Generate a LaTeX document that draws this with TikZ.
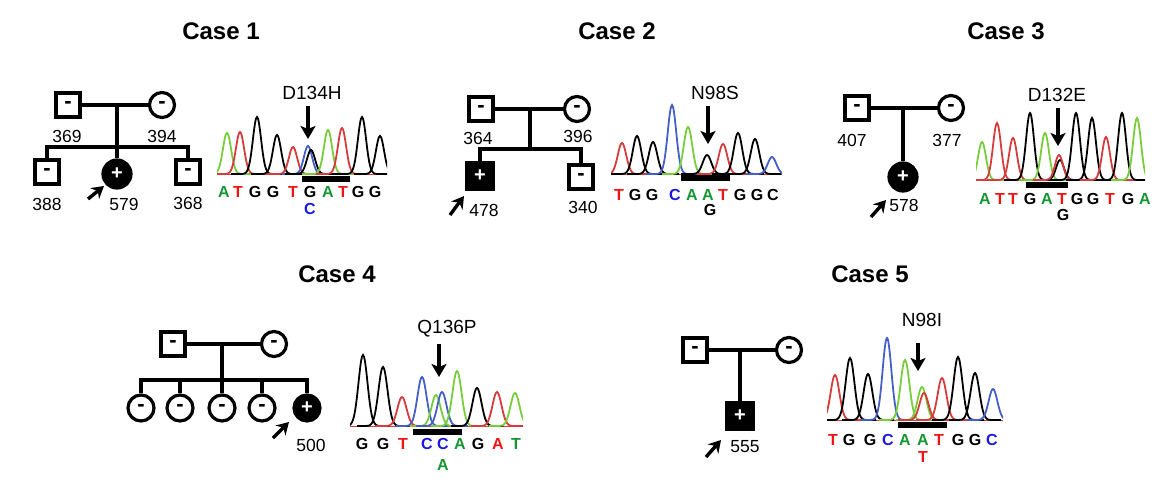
\documentclass[tikz,border=0pt]{standalone}
\usepackage{fontspec}
\setmainfont{Liberation Sans}
\usetikzlibrary{arrows.meta,positioning,calc}

\definecolor{tgreen}{RGB}{120,205,60}
\definecolor{tred}{RGB}{215,60,60}
\definecolor{tblue}{RGB}{70,95,200}
\definecolor{bA}{RGB}{20,150,50}
\definecolor{bT}{RGB}{240,20,20}
\definecolor{bC}{RGB}{25,25,225}

% one chromatogram peak: base, x, top, colour, width
\newcommand{\trace}[5]{%
  \draw[#4,line width=1.8pt] plot[domain=-26:26,samples=53,smooth]
    ({#2+\x},{#1-(#1-#3)*exp(-(\x/#5)^2)});}

\begin{document}
\begin{tikzpicture}[x=1pt,y=-1pt,
  male/.style={draw,line width=3.2pt,minimum size=24pt,inner sep=0pt,font=\bfseries\fontsize{22}{22}\selectfont},
  female/.style={male,circle,minimum size=25pt},
  affected/.style={fill=black,text=white,font=\bfseries\fontsize{20}{20}\selectfont},
  line/.style={line width=3.2pt},
  idlabel/.style={inner sep=0pt,font=\fontsize{17.5}{17.5}\selectfont},
  title/.style={inner sep=0pt,font=\bfseries\fontsize{24}{24}\selectfont},
  mutlabel/.style={inner sep=0pt,font=\fontsize{19}{19}\selectfont},
  nt/.style={inner sep=0pt,font=\bfseries\fontsize{16}{16}\selectfont},
  probarrow/.style={line width=3.4pt,-{Stealth[length=12pt,width=14pt,inset=4pt]}},
  mutarrow/.style={line width=3.4pt,-{Stealth[length=13pt,width=15pt,inset=3pt]},shorten <=6pt},
  bar/.style={line width=5.5pt}]
\useasboundingbox (0,0) rectangle (1175,492);

% ---------------- Case 1
\node[title] (t1) at (221,31) {Case 1};
\node[male] (f1) at (68,105) {-};
\node[female] (m1) at (162,105) {-};
\node[male] (c1a) at (47,172) {-};
\node[female,affected,minimum size=28pt] (p1) at (117,174) {+};
\node[male] (c1b) at (188,172) {-};
\coordinate (s1) at (117,147);
\draw[line] (f1) -- (m1);
\draw[line] (s1 |- f1) -- (p1);
\draw[line] (c1a.north) |- (s1) -| (c1b.north);
\node[idlabel] (l369) at (67,136) {369};
\node[idlabel] (l394) at (162,136) {394};
\node[idlabel] (l388) at (47,204) {388};
\node[idlabel] (l579) at (124,204) {579};
\node[idlabel] (l368) at (188,203) {368};
\coordinate (a1) at (88,199);
\coordinate (h1) at (104,186);
\draw[probarrow] (a1) -- (h1);

\begin{scope}
  \clip (217,100) rectangle (387,176);
  \draw[tred,line width=1pt] (217,174) -- (387,174);
  \foreach \px/\py/\pc in {227/133/tgreen,240/132/tred,257/117/black,277/135/black,
      293/147/tred,308/146/tblue,311/150/black,328/130/tgreen,342/128/tred,
      362/117/black,380/136/black}
    {\trace{174}{\px}{\py}{\pc}{5.8}}
\end{scope}
\draw[bar] (302,179) -- (350,179);
\foreach \px/\nb/\nc [count=\i] in {224/A/bA,238/T/bT,255/G/black,273/G/black,
    293/T/bT,310/G/black,328/A/bA,343/T/bT,358/G/black,375/G/black}
  \node[nt,text=\nc] (q1\i) at (\px,192) {\nb};
\node[nt,text=bC] (v1) at (310,209) {C};
\node[mutlabel] (mut1) at (312,93) {D134H};
\coordinate (k1) at (308,139);
\draw[mutarrow] (mut1.south -| k1) -- (k1);

% ---------------- Case 2
\node[title] (t2) at (617,31) {Case 2};
\node[male] (f2) at (481,109) {-};
\node[female] (m2) at (577,109) {-};
\node[male,affected,minimum size=26pt] (p2) at (480,176) {+};
\node[male] (c2b) at (581,177) {-};
\coordinate (s2) at (530,149);
\draw[line] (f2) -- (m2);
\draw[line] (s2 |- f2) -- (s2);
\draw[line] (p2.north) |- (s2) -| (c2b.north);
\node[idlabel] (l364) at (478,138) {364};
\node[idlabel] (l396) at (578,136) {396};
\node[idlabel] (l478) at (484,210) {478};
\node[idlabel] (l340) at (583,207) {340};
\coordinate (a2) at (450,215);
\coordinate (h2) at (464,196);
\draw[probarrow] (a2) -- (h2);

\begin{scope}
  \clip (611,95) rectangle (782,175);
  \draw[tred,line width=1pt] (611,174) -- (782,174);
  \foreach \px/\py/\pc in {622/143/tred,637/136/black,653/142/black,672/105/tblue,
      688/127/tgreen,707/155/black,723/144/tred,738/133/black,755/139/black,772/157/tblue}
    {\trace{174}{\px}{\py}{\pc}{6}}
\end{scope}
\draw[bar] (681,178) -- (730,178);
\foreach \px/\nb/\nc [count=\i] in {619/T/bT,635/G/black,652/G/black,675/C/bC,
    692/A/bA,708/A/bA,723/T/bT,740/G/black,757/G/black,773/C/black}
  \node[nt,text=\nc] (q2\i) at (\px,195) {\nb};
\node[nt] (v2) at (710,210) {G};
\node[mutlabel] (mut2) at (715,93) {N98S};
\coordinate (k2) at (708,144);
\draw[mutarrow] (mut2.south -| k2) -- (k2);

% ---------------- Case 3
\node[title] (t3) at (1006,31) {Case 3};
\node[male] (f3) at (857,108) {-};
\node[female] (m3) at (951,108) {-};
\node[female,affected,minimum size=28pt] (p3) at (903,177) {+};
\draw[line] (f3) -- (m3);
\draw[line] (p3 |- f3) -- (p3);
\node[idlabel] (l407) at (852,140) {407};
\node[idlabel] (l377) at (947,140) {377};
\node[idlabel] (l578) at (904,205) {578};
\coordinate (a3) at (871,217);
\coordinate (h3) at (886,200);
\draw[probarrow] (a3) -- (h3);

\begin{scope}
  \clip (976,100) rectangle (1145,181);
  \draw[tred,line width=1pt] (976,180) -- (1145,180);
  \foreach \px/\py/\pc in {982/142/tgreen,997/123/tred,1013/138/tred,1030/113/black,
      1045/133/tgreen,1060/160/black,1059/155/tred,1076/113/black,1092/118/black,
      1106/137/tred,1122/113/black,1137/118/tgreen}
    {\trace{180}{\px}{\py}{\pc}{5.6}}
\end{scope}
\draw[bar] (1026,185) -- (1068,185);
\foreach \px/\nb/\nc [count=\i] in {985/A/bA,1000/T/bT,1013/T/bT,1030/G/black,
    1047/A/bA,1062/T/bT,1077/G/black,1093/G/black,1110/T/bT,1128/G/black,1145/A/bA}
  \node[nt,text=\nc] (q3\i) at (\px,199) {\nb};
\node[nt] (v3) at (1063,215) {G};
\node[mutlabel] (mut3) at (1057,95) {D132E};
\coordinate (k3) at (1058,146);
\draw[mutarrow] (mut3.south -| k3) -- (k3);

% ---------------- Case 4
\node[title] (t4) at (337,274) {Case 4};
\node[male] (f4) at (173,344) {-};
\node[female] (m4) at (274,344) {-};
\foreach \cx [count=\i] in {141,180,222,262}
  \node[female,minimum size=26pt] (c4\i) at (\cx,408) {-};
\node[female,affected,minimum size=26pt] (p4) at (307,408) {+};
\coordinate (s4) at (222,380);
\draw[line] (f4) -- (m4);
\draw[line] (s4 |- f4) -- (s4);
\draw[line] (c41.north) |- (s4) -| (p4.north);
\foreach \i in {2,3,4}
  \draw[line] (c4\i.north) -- (c4\i.north |- s4);
\node[idlabel] (l500) at (311,445) {500};
\coordinate (a4) at (273,438);
\coordinate (h4) at (289,422);
\draw[probarrow] (a4) -- (h4);

\begin{scope}
  \clip (350,340) rectangle (523,427);
  \draw[tred,line width=1pt] (350,426) -- (523,426);
  \foreach \px/\py/\pc in {363/355/black,383/367/black,402/397/tred,422/377/tblue,
      436/395/tgreen,442/392/tblue,457/371/tgreen,477/388/black,497/392/tred,515/393/tgreen}
    {\trace{426}{\px}{\py}{\pc}{6.4}}
\end{scope}
\draw[bar] (413,432) -- (462,432);
\foreach \px/\nb/\nc [count=\i] in {362/G/black,383/G/black,403/T/bT,427/C/bC,
    443/C/bC,460/A/bA,478/G/black,498/A/bT,516/T/bA}
  \node[nt,text=\nc] (q4\i) at (\px,444) {\nb};
\node[nt,text=bA] (v4) at (443,465) {A};
\node[mutlabel] (mut4) at (447,329) {Q136P};
\coordinate (k4) at (439,377);
\draw[mutarrow] (mut4.south -| k4) -- (k4);

% ---------------- Case 5
\node[title] (t5) at (870,274) {Case 5};
\node[male] (f5) at (695,350) {-};
\node[female] (m5) at (789,350) {-};
\node[male,affected,minimum size=26pt] (p5) at (740,416) {+};
\draw[line] (f5) -- (m5);
\draw[line] (p5 |- f5) -- (p5);
\node[idlabel] (l555) at (745,447) {555};
\coordinate (a5) at (706,457);
\coordinate (h5) at (721,440);
\draw[probarrow] (a5) -- (h5);

\begin{scope}
  \clip (827,330) rectangle (1003,421);
  \draw[tred,line width=1pt] (827,420) -- (1003,420);
  \foreach \px/\py/\pc in {835/375/tred,850/358/black,868/374/black,887/338/tblue,
      905/360/tgreen,922/387/tgreen,924/393/tred,942/378/tred,958/357/black,
      975/373/black,993/389/tblue}
    {\trace{420}{\px}{\py}{\pc}{6.2}}
\end{scope}
\draw[bar] (898,425) -- (947,425);
\foreach \px/\nb/\nc [count=\i] in {833/T/bT,849/G/black,870/G/black,888/C/bC,
    905/A/bA,923/A/bA,939/T/bT,958/G/black,975/G/black,992/C/bC}
  \node[nt,text=\nc] (q5\i) at (\px,440) {\nb};
\node[nt,text=bT] (v5) at (923,457) {T};
\node[mutlabel] (mut5) at (922,320) {N98I};
\coordinate (k5) at (918,371);
\draw[mutarrow] (mut5.south -| k5) ++(0,10) -- (k5);
\end{tikzpicture}
\end{document}
